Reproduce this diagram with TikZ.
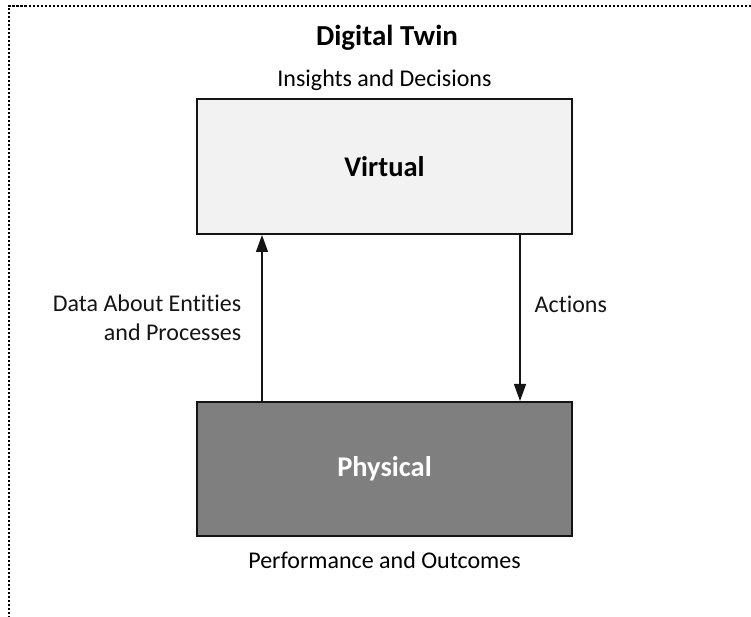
\documentclass[tikz,border=0pt]{standalone}
\usepackage{fontspec}
\setmainfont{Carlito}[Ligatures=NoCommon]
\usetikzlibrary{arrows.meta,positioning}
\definecolor{virtfill}{RGB}{242,242,242}
\definecolor{physfill}{RGB}{127,127,127}
\definecolor{ink}{RGB}{20,20,20}
\begin{document}
\begin{tikzpicture}[x=1pt,y=1pt,
  st/.style={draw=ink,line width=2pt,minimum width=375pt,minimum height=135pt,font=\fontsize{28.5}{34}\selectfont\bfseries},
  ed/.style={-{Triangle[length=17pt,width=12pt]},line width=1.4pt,ink},
  lab/.style={font=\fontsize{24}{29}\selectfont,inner sep=0pt,align=right},
  hd/.style={font=\fontsize{29}{35}\selectfont\bfseries,anchor=base},
  frm/.style={line width=1.4pt,dash pattern=on 2.5pt off 1.5pt}]
\useasboundingbox (0,0) rectangle (751,617);
\draw[frm] (751,611) -- (9,611) -- (9,0);
\node[hd] (title) at (387,571) {Digital Twin};
\node[st,fill=virtfill] (virt) at (384.5,450.5) {Virtual};
\node[st,fill=physfill,text=white,minimum height=134pt] (phys) at (384.5,148) {Physical};
\node[lab,anchor=base] (ins) at (384.5,530) {Insights and Decisions};
\node[lab,anchor=base] (perf) at (384.5,48) {Performance and Outcomes};
\draw[ed] ([xshift=66pt]phys.north west) -- node[lab,anchor=east,xshift=-20pt] (dlab) {Data About Entities\\and Processes} ([xshift=66pt]virt.south west);
\draw[ed] ([xshift=-53pt]virt.south east) -- node[lab,anchor=west,xshift=14pt,pos=.42,align=left] (alab) {Actions} ([xshift=-53pt]phys.north east);
\end{tikzpicture}
\end{document}
